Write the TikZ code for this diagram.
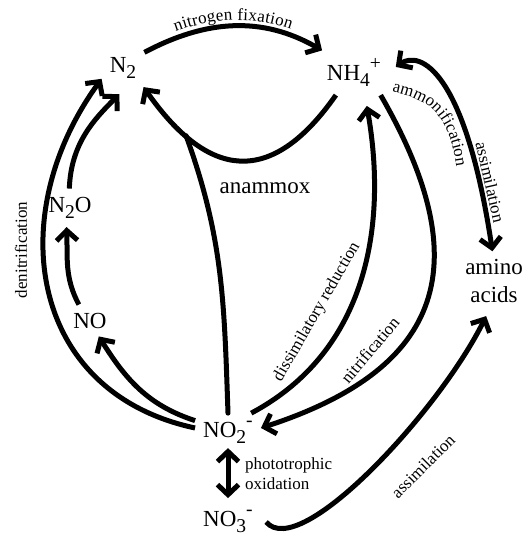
\documentclass[tikz,border=0pt]{standalone}
\usepackage{fontspec}
\setmainfont{Liberation Serif}
\usepackage{graphicx}
\usetikzlibrary{arrows.meta, decorations.text}

\newcommand{\chsub}[1]{\raisebox{-.3em}{\scalebox{.85}{#1}}}
\newcommand{\chsup}[1]{\raisebox{.45em}{\scalebox{.85}{#1}}}
\newcommand{\specfont}{\fontsize{23}{27.6}\selectfont}
\newcommand{\labfont}{\fontsize{17}{20}\selectfont}

\begin{document}
\begin{tikzpicture}[x=1pt, y=1pt,
  spec/.style={font=\specfont, inner sep=8pt},
  lab/.style={font=\labfont, inner sep=2pt},
  arr/.style={-{Straight Barb[length=10pt,width=21pt]}, line width=5pt},
  dbl/.style={{Straight Barb[length=10pt,width=21pt]}-{Straight Barb[length=10pt,width=21pt]}, line width=5pt}
]
  \useasboundingbox (0,0) rectangle (525,-536);

  % species
  \node[spec, anchor=base] (n2) at (123,-72) {N\chsub{2}};
  \node[spec, anchor=base] (nh4) at (354,-80) {NH\chsub{4}\chsup{+}};
  \node[spec, align=center] (amino) at (494,-281) {amino\\acids};
  \node[spec, anchor=base] (n2o) at (70,-212) {N\chsub{2}O};
  \node[spec, anchor=base] (no) at (90,-328) {NO};
  \node[spec, anchor=base] (no2) at (228,-437) {NO\chsub{2}\chsup{-}};
  \node[spec, anchor=base] (no3) at (228,-526) {NO\chsub{3}\chsup{-}};
  \node[spec, anchor=base, inner sep=0pt] (anx) at (265,-193) {anammox};
  \node[lab, anchor=west, align=left] (photo) at (243,-474) {phototrophic\\oxidation};

  % labels
  \node[lab, rotate=90] (denitlab) at (21,-250) {denitrification};
  \node[lab, rotate=60] (dissimlab) at (317,-312) {dissimilatory reduction};
  \node[lab, rotate=50] (nitrlab) at (370,-350) {nitrification};
  \node[lab, rotate=45] (assimlab) at (423,-466) {assimilation};

  % top
  \draw[arr, postaction={decorate, decoration={text along path, text align=center, raise=6pt,
      text={|\labfont|nitrogen fixation}}}]
    (n2.36) to[out=28, in=150] (nh4.145);
  \draw[dbl, shorten <=8pt] (nh4.2) .. controls (420,-50) and (465,-70) ..
    node[lab, sloped, above, pos=.86] {assimilation} (amino.93);
  \path[decorate, decoration={text along path, text={|\labfont|ammonification}}]
    (392,-92) .. controls (420,-98) and (450,-106) .. (457,-172);

  % anammox
  \draw[arr] (nh4.231) to[out=-125, in=-55, looseness=1.5] coordinate[pos=.78] (anxjoin) (n2.-43);
  \draw[line width=5pt, line cap=round] (no2.north) to[out=92, in=-70] (anxjoin);

  % denitrification
  \draw[arr] (no2.172) to[out=168, in=-126, looseness=1.2] (n2.207);
  \draw[arr] (no2.160) to[out=162, in=-58] (no.-61);
  \draw[arr] (no.125) to[out=118, in=-88] (n2o.260);
  \draw[arr, shorten >=10pt] (n2o.92) to[out=88, in=-135] (n2.280);

  % NH4+ <-> NO2-
  \draw[arr, shorten >=11pt] (no2.40) to[out=28, in=-80] (nh4.-64);
  \draw[arr] (nh4.-40) to[out=-60, in=18, looseness=1.4] (no2.8);

  % NO2- <-> NO3- -> amino acids
  \draw[dbl, shorten <=-4pt, shorten >=4pt] (no2) -- (no3);
  \draw[arr, shorten <=8pt, shorten >=6pt] (no3.10) .. controls (300,-562) and (440,-410) .. (amino.-100);
\end{tikzpicture}
\end{document}
